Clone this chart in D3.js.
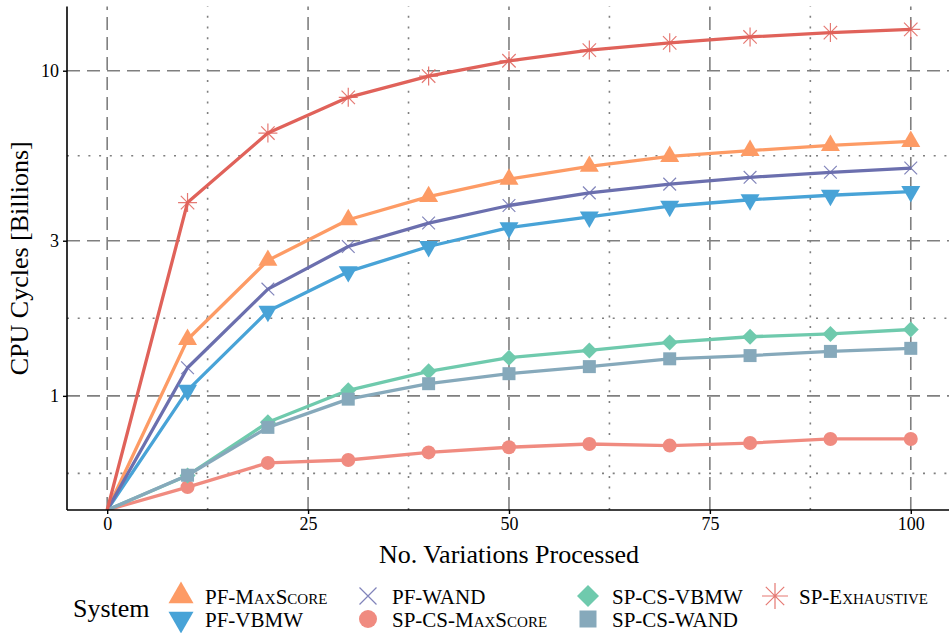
<!DOCTYPE html>
<html>
<head>
<meta charset="utf-8">
<script src="https://cdn.jsdelivr.net/npm/d3@7"></script>
<style>
    body { margin: 0; background: #ffffff; }
    svg { display: block; font-family: "Liberation Serif", "DejaVu Serif", serif; }
</style>
</head>
<body>
<div id="chart"></div>
<script>
// values, 0 = no work done (drawn at panel bottom)
let variations = [0, 10, 20, 30, 40, 50, 60, 70, 80, 90, 100];

let pfMaxScore    = [0, 1.49, 2.61, 3.48, 4.10, 4.64, 5.08, 5.45, 5.68, 5.89, 6.06];
let pfVbmw        = [0, 1.04, 1.82, 2.41, 2.88, 3.29, 3.55, 3.83, 4.01, 4.14, 4.25];
let pfWand        = [0, 1.22, 2.13, 2.88, 3.40, 3.85, 4.21, 4.48, 4.70, 4.87, 5.02];
let spCsMaxScore  = [0, 0.524, 0.622, 0.635, 0.670, 0.695, 0.711, 0.703, 0.716, 0.737, 0.737];
let spCsVbmw      = [0, 0.569, 0.829, 1.04, 1.19, 1.31, 1.38, 1.46, 1.52, 1.55, 1.60];
let spCsWand      = [0, 0.570, 0.800, 0.977, 1.09, 1.17, 1.23, 1.30, 1.33, 1.37, 1.40];
let spExhaustive  = [0, 3.93, 6.43, 8.28, 9.63, 10.73, 11.57, 12.18, 12.70, 13.10, 13.40];

let systemNames = ["PF-MaxScore", "PF-VBMW", "PF-WAND", "SP-CS-MaxScore", "SP-CS-VBMW", "SP-CS-WAND", "SP-Exhaustive"];
let systemValues = [pfMaxScore, pfVbmw, pfWand, spCsMaxScore, spCsVbmw, spCsWand, spExhaustive];
let systemColors = ["#fd9b65", "#48a3d7", "#6b6fae", "#f08b80", "#6fcaad", "#86a9bb", "#e0625a"];
let systemShapes = ["triUp", "triDown", "cross", "circle", "diamond", "square", "asterisk"];

let xTicks = [0, 25, 50, 75, 100];
let xMinor = [12.5, 37.5, 62.5, 87.5];
let yTicks = [1, 3, 10];
let yTickLabels = ["1", "3", "10"];

let width = 949, height = 633;
let margin = { left: 67, top: 6.5, bottom: 510 };

let svg = d3.select("#chart")
    .append("svg")
    .attr("width", width)
    .attr("height", height);

// scales, ggplot style 5% expansion
let x = d3.scaleLinear().domain([-5, 105]).range([margin.left, margin.left + 110 * 8.036]);

let positives = systemValues.flat().filter(v => v > 0);
let logMin = Math.log10(d3.min(positives)), logMax = Math.log10(d3.max(positives));
let pad = (logMax - logMin) * 0.05;
let y = d3.scaleLog()
    .domain([Math.pow(10, logMin - pad), Math.pow(10, logMax + pad)])
    .range([margin.bottom, margin.top]);

let yPos = v => v > 0 ? y(v) : margin.bottom;

// minor breaks sit halfway (in log space) between the majors
let yMinor = [1 / 3].concat(yTicks).slice(0, -1).map((d, i) => Math.sqrt(d * yTicks[i]));

svg.append("clipPath")
    .attr("id", "panel-clip")
    .append("rect")
    .attr("x", margin.left)
    .attr("y", margin.top)
    .attr("width", width - margin.left)
    .attr("height", margin.bottom - margin.top);

let grid = svg.append("g").attr("class", "grid")
    .attr("stroke", "#7f7f7f")
    .attr("stroke-width", 1.6)
    .attr("fill", "none");

grid.selectAll(".x-minor")
    .data(xMinor)
    .enter().append("line")
    .attr("x1", d => x(d)).attr("x2", d => x(d))
    .attr("y1", margin.bottom).attr("y2", margin.top)
    .attr("stroke-dasharray", "2,8.7");

grid.selectAll(".y-minor")
    .data(yMinor)
    .enter().append("line")
    .attr("x1", margin.left).attr("x2", width)
    .attr("y1", d => y(d)).attr("y2", d => y(d))
    .attr("stroke-dasharray", "2,8.7");

grid.selectAll(".x-major")
    .data(xTicks)
    .enter().append("line")
    .attr("x1", d => x(d)).attr("x2", d => x(d))
    .attr("y1", margin.bottom).attr("y2", margin.top)
    .attr("stroke-dasharray", "13,7");

grid.selectAll(".y-major")
    .data(yTicks)
    .enter().append("line")
    .attr("x1", margin.left).attr("x2", width)
    .attr("y1", d => y(d)).attr("y2", d => y(d))
    .attr("stroke-dasharray", "13,7");

// marker paths
function markerPath(shape, s) {
    if (shape == "triUp") return d3.symbol(d3.symbolTriangle, s * s * 0.433)();
    if (shape == "triDown") return d3.symbol(d3.symbolTriangle, s * s * 0.433)();
    if (shape == "circle") return d3.symbol(d3.symbolCircle, Math.PI * s * s / 4)();
    if (shape == "square") return d3.symbol(d3.symbolSquare, s * s)();
    if (shape == "diamond") {
        let h = s / 2;
        return "M0," + (-h) + "L" + h + ",0L0," + h + "L" + (-h) + ",0Z";
    }
    let h = s / 2, q = h * Math.SQRT1_2;
    if (shape == "cross") {
        return "M" + (-q) + "," + (-q) + "L" + q + "," + q + "M" + (-q) + "," + q + "L" + q + "," + (-q);
    }
    // asterisk: plus + cross
    return "M0," + (-h) + "L0," + h + "M" + (-h) + ",0L" + h + ",0" +
        "M" + (-q) + "," + (-q) + "L" + q + "," + q + "M" + (-q) + "," + q + "L" + q + "," + (-q);
}

function drawMarker(sel, shape, color, s) {
    let open = shape == "cross" || shape == "asterisk";
    sel.append("path")
        .attr("d", markerPath(shape, s))
        .attr("transform", shape == "triDown" ? "rotate(180)" : null)
        .attr("fill", open ? "none" : color)
        .attr("stroke", open ? color : "none")
        .attr("stroke-opacity", 0.85)
        .attr("stroke-width", 1.2);
}

let plot = svg.append("g")
    .attr("id", "plot")
    .attr("clip-path", "url(#panel-clip)");

let plotSizes = { triUp: 19, triDown: 19, cross: 18, circle: 14, diamond: 16, square: 13, asterisk: 19 };

let line = d3.line()
    .x((d, i) => x(variations[i]))
    .y(d => yPos(d));

systemNames.forEach((name, k) => {
    plot.append("path")
        .datum(systemValues[k])
        .attr("fill", "none")
        .attr("stroke", systemColors[k])
        .attr("stroke-width", 3.3)
        .attr("stroke-linejoin", "round")
        .attr("d", line);
});

// zero values sit off the log scale, so no marker is drawn for them
systemNames.forEach((name, k) => {
    systemValues[k].forEach((v, i) => {
        if (v <= 0) return;
        let g = plot.append("g")
            .attr("transform", "translate(" + x(variations[i]) + "," + y(v) + ")");
        drawMarker(g, systemShapes[k], systemColors[k], plotSizes[systemShapes[k]]);
    });
});

// axes
let gX = svg.append("g")
    .attr("class", "x")
    .attr("transform", "translate(0," + margin.bottom + ")")
    .call(d3.axisBottom(x).tickValues(xTicks).tickSize(4).tickSizeOuter(0).tickPadding(3));
gX.select(".domain").attr("d", "M" + margin.left + ",0H" + width).attr("stroke-width", 1.6);
gX.selectAll(".tick line").attr("stroke-width", 1.4);
gX.selectAll("text")
    .attr("font-size", "18px")
    .attr("font-family", "Liberation Serif")
    .attr("fill", "black");

let gY = svg.append("g")
    .attr("class", "y")
    .attr("transform", "translate(" + margin.left + ",0)")
    .call(d3.axisLeft(y).tickValues(yTicks).tickFormat((d, i) => yTickLabels[i]).tickSize(4).tickSizeOuter(0).tickPadding(4));
gY.select(".domain").attr("d", "M0," + margin.top + "V" + margin.bottom).attr("stroke-width", 1.6);
gY.selectAll(".tick line").attr("stroke-width", 1.4);
gY.selectAll("text")
    .attr("font-size", "18px")
    .attr("font-family", "Liberation Serif")
    .attr("fill", "black");

svg.append("text")
    .attr("class", "x-label")
    .attr("x", 509)
    .attr("y", 563)
    .attr("text-anchor", "middle")
    .attr("font-size", "26px")
    .text("No. Variations Processed");

svg.append("text")
    .attr("class", "y-label")
    .attr("transform", "translate(28," + ((margin.top + margin.bottom) / 2) + ") rotate(270)")
    .attr("text-anchor", "middle")
    .attr("font-size", "26px")
    .text("CPU Cycles [Billions]");

// legend, two rows filled column by column
let legend = svg.append("g").attr("class", "legend");
legend.append("text")
    .attr("x", 73)
    .attr("y", 617)
    .attr("font-size", "26px")
    .text("System");

let legendCols = [181, 368, 588, 775];
let legendRows = [596, 619];
let legendSizes = { triUp: 25, triDown: 25, cross: 24, circle: 18, diamond: 22, square: 17, asterisk: 26 };

systemNames.forEach((name, k) => {
    let cx = legendCols[Math.floor(k / 2)], cy = legendRows[k % 2];
    let key = legend.append("g").attr("transform", "translate(" + cx + "," + cy + ")");
    drawMarker(key, systemShapes[k], systemColors[k], legendSizes[systemShapes[k]]);
    legend.append("text")
        .attr("x", cx + 24)
        .attr("y", cy + 8)
        .attr("font-size", "21px")
        .style("font-variant", "small-caps")
        .text(name);
});
</script>
</body>
</html>
